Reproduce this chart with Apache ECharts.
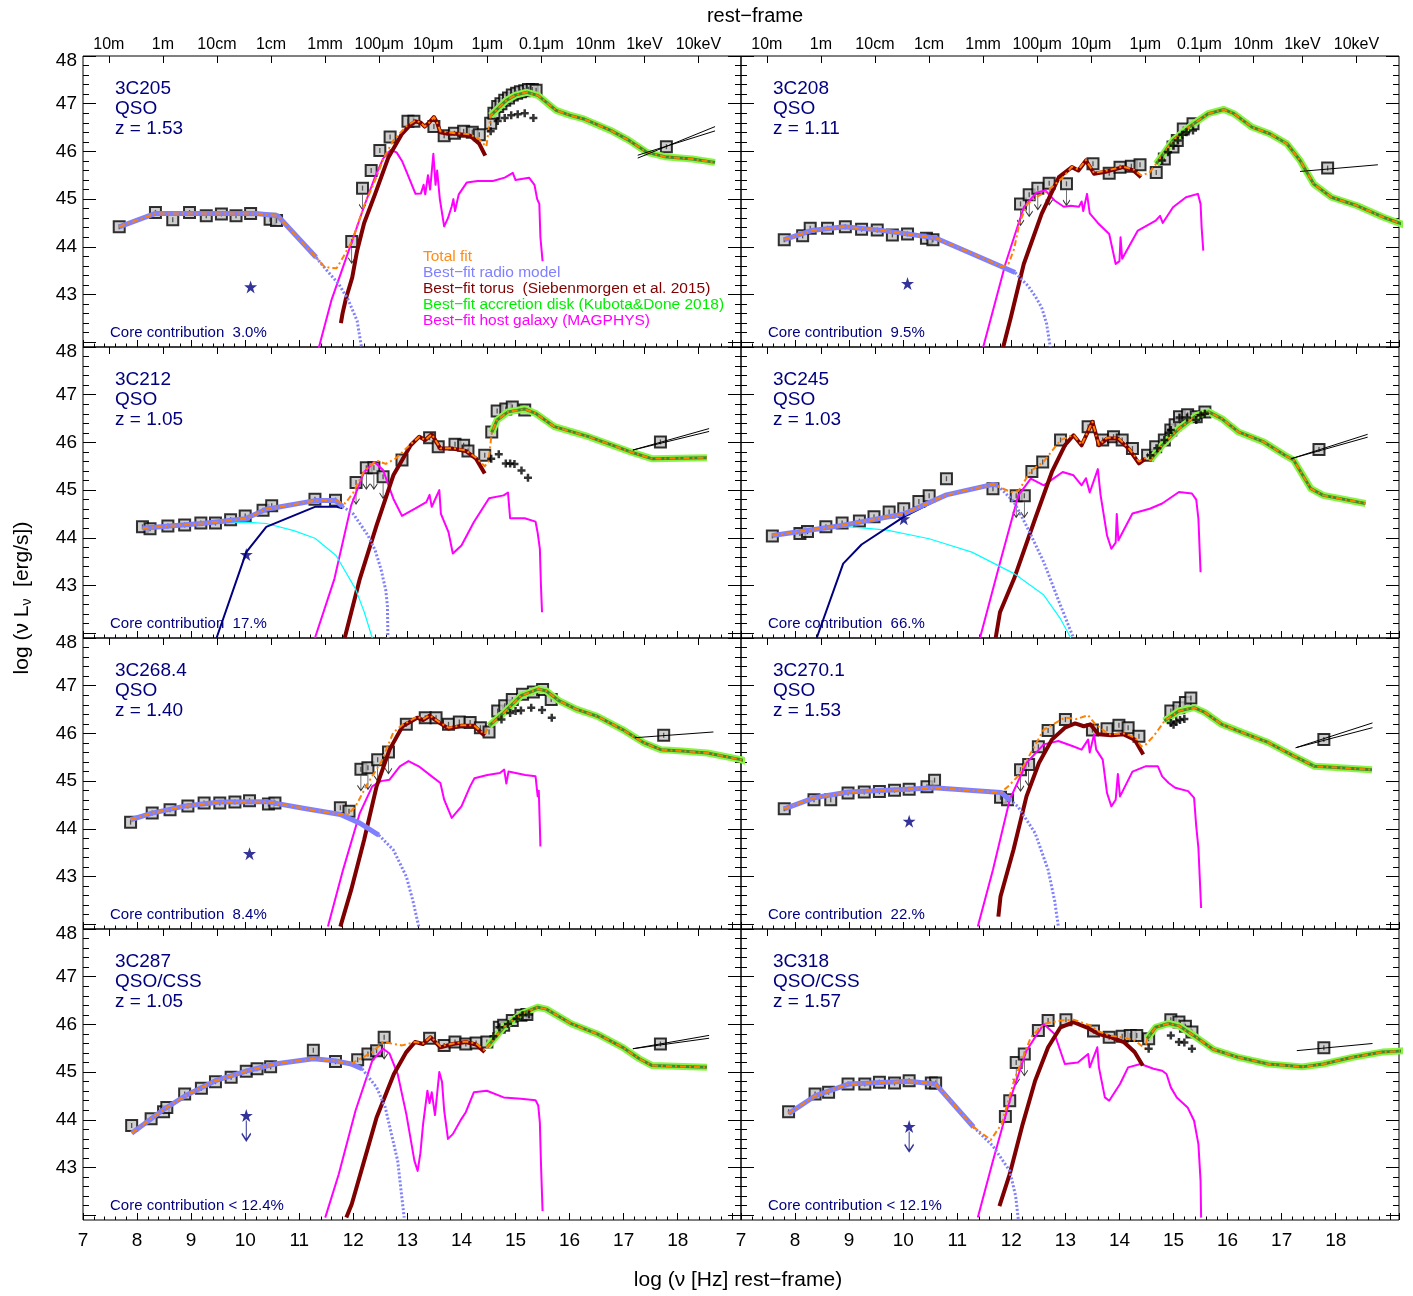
<!DOCTYPE html>
<html><head><meta charset="utf-8">
<script src="https://cdn.jsdelivr.net/npm/echarts@6.0.0/dist/echarts.min.js"></script>
<style>html,body{margin:0;padding:0;background:#fff}#c{width:1413px;height:1296px}</style>
</head><body><div id="c"></div>
<script>
// ---------------- axis ticks / labels ----------------
const TOP_TICK_POS = [7.477, 8.477, 9.477, 10.477, 11.477, 12.477, 13.477, 14.477, 15.477, 16.477, 17.383, 18.383];
const TOP_TICK_LABELS = ['10m','1m','10cm','1cm','1mm','100\u03bcm','10\u03bcm','1\u03bcm','0.1\u03bcm','10nm','1keV','10keV'];
const Y_MAJOR = [42, 43, 44, 45, 46, 47, 48];
const Y_LABELS = [43, 44, 45, 46, 47, 48];

// ---------------- 3C205 ----------------
const pts205 = [[7.67,44.42],[8.34,44.72],[8.66,44.57],[8.97,44.72],[9.28,44.65],[9.56,44.69],[9.83,44.65],[10.10,44.70],[10.46,44.58],[10.58,44.55],[12.33,45.60],[12.49,46.02],[12.68,46.30],[13.01,46.63],[13.12,46.63],[13.49,46.52],[13.68,46.33],[13.87,46.38],[14.04,46.42],[14.2,46.40],[14.33,46.35],[14.54,46.59],[14.6,46.8],[14.67,46.94],[14.73,47.0],[14.8,47.07],[14.87,47.12],[14.94,47.18],[15.02,47.22],[15.09,47.25],[15.17,47.27],[15.24,47.3],[15.31,47.3],[15.38,47.28],[17.79,46.1]];
const ul205 = [[11.97,44.11],[12.17,45.23]];
const crs205 = [[14.54,46.42],[14.67,46.64],[14.8,46.7],[14.92,46.76],[15.04,46.78],[15.17,46.8],[15.33,46.7]];
const star205 = [[10.10,43.16]];
const radio205 = [[7.67,44.42],[8.34,44.7],[8.97,44.7],[9.6,44.7],[10.2,44.7],[10.6,44.65],[11.31,43.78]];
const radioExt205 = [[11.31,43.78],[11.5,43.52],[11.73,43.22],[11.9,42.9],[12.07,42.45],[12.15,41.9]];
const torus205 = [[11.77,42.4],[11.8,42.6],[11.86,42.9],[11.98,43.36],[12.07,43.92],[12.2,44.5],[12.4,45.1],[12.65,45.88],[12.9,46.37],[13.05,46.55],[13.15,46.63],[13.25,46.6],[13.32,46.52],[13.4,46.6],[13.49,46.72],[13.55,46.6],[13.61,46.4],[13.75,46.37],[13.9,46.37],[14.16,46.33],[14.33,46.16],[14.44,45.91]];
const host205 = [[11.36,41.88],[11.6,42.9],[11.98,44.13],[12.2,44.85],[12.4,45.46],[12.55,45.85],[12.69,46.03],[12.8,45.98],[12.9,45.8],[13.0,45.53],[13.15,45.11],[13.25,45.12],[13.3,45.3],[13.33,45.1],[13.38,45.5],[13.42,45.2],[13.48,45.95],[13.52,45.3],[13.55,45.6],[13.6,45.0],[13.68,44.43],[13.75,44.6],[13.82,44.85],[13.85,45.0],[13.88,44.75],[13.95,45.1],[14.1,45.35],[14.3,45.38],[14.58,45.38],[14.8,45.45],[14.95,45.55],[15.0,45.4],[15.25,45.45],[15.35,45.3],[15.4,45.0],[15.44,44.9],[15.46,44.2],[15.5,43.7]];
const disk205 = [[14.54,46.75],[14.83,47.07],[15.0,47.18],[15.21,47.24],[15.42,47.17],[15.6,47.0],[15.75,46.86],[16.0,46.76],[16.26,46.68],[16.76,46.44],[17.1,46.23],[17.43,45.98],[17.76,45.89],[18.27,45.84],[18.69,45.77]];
const total205 = [[7.67,44.42],[8.34,44.7],[8.97,44.7],[9.6,44.7],[10.2,44.7],[10.6,44.65],[11.31,43.78],[11.45,43.6],[11.56,43.56],[11.69,43.55],[11.81,43.78],[11.98,44.13],[12.19,44.83],[12.4,45.39],[12.57,45.88],[12.74,46.23],[12.99,46.54],[13.15,46.65],[13.25,46.6],[13.32,46.52],[13.4,46.6],[13.49,46.72],[13.55,46.6],[13.61,46.42],[13.9,46.38],[14.16,46.36],[14.33,46.25],[14.46,46.1]];
const xrayA205 = [[17.26,45.86],[18.69,46.52]];
const xrayB205 = [[17.26,45.92],[18.69,46.43]];

// ---------------- 3C208 ----------------
const pts208 = [[7.80,44.15],[8.14,44.23],[8.28,44.39],[8.6,44.39],[8.93,44.42],[9.23,44.37],[9.52,44.35],[9.80,44.25],[10.08,44.27],[10.43,44.18],[10.55,44.15],[13.51,45.74],[13.81,45.54],[14.01,45.67],[14.22,45.69],[14.38,45.72],[14.68,45.56],[14.83,45.84],[14.99,46.09],[15.07,46.23],[15.18,46.47],[15.36,46.58],[17.85,45.65]];
const ul208 = [[12.17,44.9],[12.33,45.09],[12.49,45.23],[12.7,45.33],[13.02,45.32]];
const crs208 = [[14.79,45.81],[14.9,45.98],[15.0,46.12],[15.08,46.23],[15.16,46.35],[15.24,46.4],[15.36,46.44]];
const star208 = [[10.08,43.23]];
const radio208 = [[7.8,44.15],[8.3,44.34],[8.91,44.42],[9.56,44.35],[10.2,44.25],[10.61,44.18],[12.07,43.46]];
const radioExt208 = [[12.07,43.46],[12.31,43.18],[12.45,42.95],[12.56,42.73],[12.65,42.4],[12.72,41.9]];
const torus208 = [[11.85,41.9],[11.99,42.52],[12.23,43.64],[12.56,44.69],[12.88,45.46],[13.12,45.67],[13.24,45.6],[13.38,45.81],[13.53,45.53],[13.77,45.58],[14.06,45.67],[14.26,45.6],[14.4,45.46]];
const host208 = [[11.48,41.9],[11.89,43.64],[12.23,44.83],[12.47,45.14],[12.63,45.18],[12.8,44.97],[12.97,44.84],[13.1,44.86],[13.25,44.84],[13.3,44.95],[13.33,44.75],[13.4,45.11],[13.45,44.7],[13.6,44.5],[13.81,44.27],[13.93,43.64],[14.0,43.7],[14.02,44.2],[14.05,43.75],[14.34,44.34],[14.67,44.55],[14.75,44.65],[14.8,44.5],[14.99,44.83],[15.23,45.04],[15.45,45.11],[15.5,44.9],[15.52,44.4],[15.55,43.92]];
const disk208 = [[14.68,45.74],[14.99,46.23],[15.32,46.54],[15.64,46.79],[15.93,46.88],[16.12,46.79],[16.45,46.51],[16.78,46.37],[17.1,46.16],[17.34,45.81],[17.59,45.32],[17.92,45.04],[18.4,44.86],[18.88,44.62],[19.41,44.4]];
const total208 = [[7.8,44.15],[8.3,44.34],[8.91,44.42],[9.56,44.35],[10.2,44.25],[10.61,44.18],[11.5,43.75],[11.83,43.58],[11.95,43.65],[12.05,43.95],[12.15,44.5],[12.3,44.9],[12.48,45.05],[12.7,45.2],[12.95,45.45],[13.12,45.68],[13.24,45.62],[13.38,45.82],[13.53,45.55],[13.77,45.6],[14.06,45.68],[14.26,45.62],[14.4,45.5],[14.55,45.55]];
const xrayA208 = [[17.34,45.58],[18.78,45.72]];
const xrayB208 = [];

// ---------------- 3C212 ----------------
const pts212 = [[8.10,44.23],[8.24,44.19],[8.57,44.25],[8.88,44.27],[9.18,44.31],[9.45,44.31],[9.73,44.38],[10.0,44.46],[10.33,44.58],[10.49,44.67],[11.29,44.81],[11.67,44.79],[12.9,45.63],[13.41,46.1],[13.57,45.91],[13.88,45.96],[14.04,45.94],[14.12,45.82],[14.43,45.73],[14.56,46.22],[14.66,46.66],[14.82,46.70],[14.94,46.74],[15.17,46.68],[17.68,46.01]];
const ul212 = [[12.05,45.16],[12.24,45.47],[12.38,45.47],[12.55,45.28]];
const crs212 = [[14.55,45.66],[14.69,45.75],[14.82,45.56],[14.9,45.56],[14.98,45.55],[15.11,45.41],[15.23,45.26]];
const star212 = [[10.02,43.65]];
const radio212 = [[8.1,44.2],[8.6,44.25],[9.2,44.3],[10.0,44.4],[10.39,44.6],[11.29,44.78],[11.67,44.78],[11.8,44.66]];
const radioExt212 = [[11.8,44.66],[12.0,44.5],[12.27,44.05],[12.4,43.75],[12.51,43.35],[12.6,42.9],[12.63,42.58],[12.64,41.9]];
const core212 = [[9.47,41.9],[10.02,43.7],[10.39,44.23],[11.29,44.65],[11.69,44.65],[11.8,44.62]];
const cyan212 = [[8.1,44.2],[9.0,44.28],[10.0,44.33],[10.39,44.3],[10.9,44.15],[11.29,43.99],[11.68,43.63],[12.04,42.93],[12.2,42.45],[12.35,41.9]];
const torus212 = [[11.84,41.9],[12.12,43.14],[12.43,44.26],[12.74,45.31],[13.06,45.94],[13.22,46.12],[13.33,46.05],[13.45,46.17],[13.61,45.87],[13.84,45.87],[14.08,45.82],[14.27,45.66],[14.43,45.35]];
const host212 = [[11.29,41.9],[11.65,43.14],[11.96,44.68],[12.2,45.38],[12.39,45.59],[12.55,45.42],[12.74,44.82],[12.9,44.46],[13.14,44.61],[13.35,44.75],[13.41,44.9],[13.45,44.65],[13.53,44.85],[13.59,45.0],[13.62,44.5],[13.76,44.12],[13.84,43.67],[14.0,43.84],[14.23,44.33],[14.51,44.83],[14.78,44.89],[14.86,44.95],[14.9,44.41],[15.17,44.41],[15.37,44.34],[15.41,44.1],[15.45,43.77],[15.47,43.0],[15.49,42.44]];
const disk212 = [[14.56,46.21],[14.66,46.47],[14.86,46.64],[15.17,46.7],[15.37,46.61],[15.72,46.33],[16.35,46.12],[17.13,45.8],[17.52,45.66],[18.54,45.68]];
const total212 = [[8.1,44.2],[8.6,44.25],[9.2,44.3],[10.0,44.4],[10.39,44.6],[11.29,44.78],[11.67,44.78],[11.85,44.72],[12.0,44.95],[12.2,45.4],[12.43,45.62],[12.6,45.55],[12.78,45.66],[13.06,45.96],[13.22,46.12],[13.33,46.05],[13.45,46.17],[13.61,45.88],[13.84,45.88],[14.08,45.83],[14.27,45.68],[14.43,45.5],[14.5,45.6]];
const xrayA212 = [[17.17,45.84],[18.58,46.29]];
const xrayB212 = [[17.17,45.84],[18.58,46.23]];

// ---------------- 3C245 ----------------
const pts245 = [[7.58,44.04],[8.09,44.09],[8.23,44.13],[8.57,44.23],[8.87,44.31],[9.19,44.35],[9.46,44.44],[9.74,44.54],[10.01,44.61],[10.29,44.76],[10.48,44.88],[10.8,45.24],[11.66,45.03],[12.38,45.39],[12.58,45.59],[12.91,46.05],[13.42,46.33],[13.69,46.05],[13.89,46.12],[14.05,46.05],[14.24,45.87],[14.52,45.73],[14.67,45.91],[14.83,46.05],[14.95,46.26],[15.03,46.37],[15.11,46.54],[15.26,46.58],[15.42,46.54],[15.58,46.64],[17.69,45.85]];
const ul245 = [[12.09,44.88],[12.24,44.88]];
const crs245 = [[14.57,45.73],[14.7,45.88],[14.83,46.05],[14.91,46.2],[14.95,46.26],[15.11,46.52],[15.25,46.52],[15.42,46.47],[15.5,46.57],[15.58,46.6]];
const star245 = [[10.01,44.40]];
const radio245 = [[7.58,44.05],[8.87,44.26],[10.01,44.5],[10.8,44.9],[11.66,45.12],[11.75,45.1]];
const radioExt245 = [[11.75,45.1],[12.05,44.75],[12.29,44.23],[12.6,43.49],[12.91,42.58],[13.15,41.9]];
const core245 = [[8.4,41.9],[8.89,43.46],[9.23,43.86],[10.01,44.44],[10.8,44.89],[11.66,45.12]];
const cyan245 = [[7.58,44.05],[8.87,44.23],[9.03,44.23],[9.7,44.16],[10.48,43.98],[11.27,43.7],[12.05,43.25],[12.6,42.8],[12.91,42.3],[13.1,41.9]];
const torus245 = [[11.71,41.9],[11.79,42.44],[12.05,43.14],[12.44,44.4],[12.75,45.38],[12.99,45.94],[13.15,46.15],[13.3,45.94],[13.5,46.43],[13.62,45.94],[13.77,46.08],[13.97,46.08],[14.17,45.87],[14.36,45.56],[14.48,45.66]];
const host245 = [[11.42,41.9],[11.81,43.56],[12.13,44.89],[12.36,45.24],[12.6,45.1],[12.95,45.38],[13.15,45.31],[13.3,45.1],[13.38,45.25],[13.45,44.95],[13.6,45.44],[13.65,44.9],[13.77,44.05],[13.85,43.77],[13.93,43.9],[13.95,44.5],[13.98,43.95],[14.24,44.51],[14.56,44.61],[14.79,44.72],[15.1,44.96],[15.34,44.93],[15.42,44.8],[15.46,44.4],[15.5,43.28]];
const disk245 = [[14.57,45.63],[14.79,45.94],[15.1,46.29],[15.42,46.56],[15.65,46.64],[15.89,46.5],[16.2,46.22],[16.67,46.01],[17.06,45.73],[17.22,45.63],[17.54,45.03],[17.77,44.89],[18.55,44.72]];
const total245 = [[7.58,44.05],[8.87,44.26],[10.01,44.5],[10.8,44.9],[11.66,45.12],[11.8,45.05],[12.0,44.96],[12.13,44.98],[12.36,45.4],[12.6,45.6],[12.91,46.05],[13.15,46.16],[13.3,45.95],[13.5,46.43],[13.62,45.95],[13.77,46.1],[13.97,46.1],[14.17,45.88],[14.36,45.6],[14.5,45.68]];
const xrayA245 = [[17.18,45.66],[18.59,46.17]];
const xrayB245 = [[17.18,45.66],[18.59,46.11]];

// ---------------- 3C268.4 ----------------
const pts2684 = [[7.88,44.14],[8.28,44.33],[8.61,44.40],[8.94,44.48],[9.24,44.54],[9.53,44.54],[9.81,44.56],[10.08,44.59],[10.43,44.52],[10.55,44.54],[11.76,44.44],[11.92,44.37],[12.98,46.19],[13.33,46.33],[13.53,46.33],[13.76,46.19],[13.96,46.24],[14.16,46.23],[14.35,46.12],[14.51,46.03],[14.67,46.47],[14.8,46.58],[14.94,46.71],[15.13,46.82],[15.33,46.87],[15.5,46.92],[15.66,46.71],[17.74,45.96]];
const ul2684 = [[12.14,45.25],[12.27,45.28],[12.45,45.45],[12.65,45.61]];
const crs2684 = [[14.74,46.29],[14.9,46.43],[15.0,46.47],[15.1,46.48],[15.29,46.54],[15.49,46.49],[15.67,46.33]];
const star2684 = [[10.08,43.48]];
const radio2684 = [[7.88,44.19],[8.28,44.33],[8.9,44.48],[9.53,44.56],[10.39,44.57],[11.02,44.44],[11.76,44.3],[12.12,44.12],[12.47,43.87]];
const radioExt2684 = [[12.47,43.87],[12.74,43.56],[12.98,43.0],[13.1,42.5],[13.21,41.95]];
const torus2684 = [[11.76,41.95],[11.96,42.72],[12.2,43.77],[12.43,44.89],[12.67,45.66],[12.91,46.15],[13.18,46.33],[13.29,46.28],[13.41,46.37],[13.61,46.21],[13.76,46.1],[14.0,46.16],[14.23,46.16],[14.43,45.95]];
const host2684 = [[11.53,41.95],[11.81,43.14],[12.12,44.33],[12.35,44.89],[12.51,45.0],[12.67,45.03],[12.86,45.31],[13.02,45.42],[13.21,45.31],[13.45,45.1],[13.61,44.96],[13.68,44.61],[13.82,44.23],[14.0,44.47],[14.16,44.89],[14.24,45.06],[14.48,45.13],[14.71,45.17],[14.79,45.24],[14.83,44.95],[14.87,45.2],[15.18,45.13],[15.37,45.1],[15.41,44.68],[15.43,44.8],[15.45,44.05],[15.46,43.63]];
const disk2684 = [[14.51,46.16],[14.79,46.44],[15.1,46.79],[15.42,46.93],[15.57,46.89],[15.81,46.68],[16.12,46.51],[16.51,46.36],[16.98,46.08],[17.38,45.8],[17.69,45.66],[18.08,45.63],[18.55,45.59],[19.17,45.45],[19.3,45.4]];
const total2684 = [[7.88,44.19],[8.28,44.33],[8.9,44.48],[9.53,44.56],[10.39,44.57],[11.02,44.44],[11.76,44.3],[11.9,44.3],[12.04,44.47],[12.27,44.96],[12.51,45.39],[12.74,46.02],[12.91,46.18],[13.18,46.35],[13.29,46.3],[13.41,46.38],[13.61,46.22],[13.76,46.12],[14.0,46.17],[14.23,46.17],[14.43,45.98]];
const xrayA2684 = [[17.21,45.91],[18.66,46.03]];
const xrayB2684 = [];

// ---------------- 3C270.1 ----------------
const pts2701 = [[7.80,44.42],[8.35,44.61],[8.66,44.61],[8.98,44.75],[9.28,44.77],[9.56,44.78],[9.84,44.81],[10.11,44.83],[10.44,44.88],[10.58,45.02],[11.8,44.66],[11.93,44.61],[12.5,45.72],[12.68,46.06],[13.0,46.29],[13.5,46.07],[13.77,46.1],[13.99,46.17],[14.16,46.12],[14.36,45.94],[14.95,46.47],[15.1,46.54],[15.22,46.65],[15.32,46.74],[17.78,45.87]];
const ul2701 = [[12.17,45.24],[12.32,45.35]];
const crs2701 = [[14.95,46.22],[15.0,46.18],[15.05,46.25],[15.12,46.28],[15.2,46.3]];
const star2701 = [[10.11,44.16]];
const radio2701 = [[7.8,44.42],[8.35,44.65],[8.99,44.77],[10.09,44.83],[10.56,44.86],[11.81,44.76],[11.97,44.61]];
const radioExt2701 = [[11.97,44.61],[12.12,44.47],[12.44,43.91],[12.68,43.14],[12.8,42.5],[12.87,41.95]];
const torus2701 = [[11.76,42.16],[11.8,42.58],[12.04,43.56],[12.28,44.68],[12.51,45.38],[12.75,45.87],[12.99,46.12],[13.18,46.21],[13.34,46.15],[13.46,46.19],[13.61,45.98],[13.85,45.96],[14.08,45.98],[14.28,45.87],[14.44,45.56]];
const host2701 = [[11.38,41.95],[11.66,43.14],[11.97,44.61],[12.28,45.38],[12.6,45.77],[12.87,45.84],[13.14,45.73],[13.3,45.66],[13.42,45.87],[13.45,45.6],[13.53,45.98],[13.57,45.66],[13.69,45.45],[13.77,44.75],[13.85,44.47],[13.93,44.61],[13.97,45.15],[14.01,44.68],[14.24,45.2],[14.48,45.31],[14.71,45.31],[14.79,45.1],[14.91,44.96],[15.03,44.86],[15.27,44.79],[15.38,44.65],[15.42,44.05],[15.46,43.6],[15.51,42.34]];
const disk2701 = [[14.83,46.26],[15.1,46.47],[15.38,46.54],[15.58,46.44],[15.89,46.19],[16.36,45.98],[16.75,45.81],[17.22,45.53],[17.61,45.31],[17.93,45.29],[18.67,45.24]];
const total2701 = [[7.8,44.42],[8.35,44.65],[8.99,44.77],[10.09,44.83],[10.56,44.86],[11.81,44.76],[11.95,44.9],[12.12,45.1],[12.36,45.59],[12.6,46.08],[12.99,46.33],[13.2,46.3],[13.42,46.38],[13.55,46.2],[13.8,45.98],[14.1,46.0],[14.3,45.9],[14.4,45.73],[14.48,45.76],[14.63,45.94],[14.79,46.19]];
const xrayA2701 = [[17.26,45.7],[18.68,46.22]];
const xrayB2701 = [[17.26,45.7],[18.68,46.12]];

// ---------------- 3C287 ----------------
const pts287 = [[7.90,43.88],[8.26,44.02],[8.49,44.17],[8.55,44.26],[8.88,44.54],[9.19,44.66],[9.45,44.80],[9.74,44.89],[10.02,45.02],[10.22,45.07],[10.47,45.11],[11.26,45.46],[11.67,45.22],[12.08,45.26],[12.27,45.38],[12.43,45.45],[13.41,45.71],[13.68,45.56],[13.88,45.63],[14.08,45.59],[14.27,45.61],[14.47,45.63],[14.7,45.94],[14.78,45.98],[14.94,46.08],[15.1,46.19],[15.21,46.21],[17.68,45.59]];
const ul287 = [[12.57,45.73]];
const crs287 = [[14.59,45.75],[14.7,45.94],[14.86,46.01],[15.02,46.12],[15.13,46.19],[15.25,46.21]];
const star287 = [[10.02,44.09]];
const radio287 = [[7.9,43.72],[8.51,44.23],[8.9,44.51],[9.45,44.82],[10.08,45.04],[10.55,45.17],[11.26,45.28],[11.65,45.24],[11.96,45.17],[12.16,45.07]];
const radioExt287 = [[12.16,45.07],[12.43,44.68],[12.59,44.26],[12.82,43.14],[12.94,41.95]];
const torus287 = [[11.87,41.95],[11.97,42.23],[12.2,43.14],[12.43,44.05],[12.75,44.96],[12.98,45.42],[13.14,45.63],[13.29,45.59],[13.43,45.73],[13.61,45.52],[13.84,45.59],[14.08,45.63],[14.27,45.58],[14.43,45.42]];
const host287 = [[11.48,41.95],[11.73,42.86],[12.04,44.19],[12.35,45.24],[12.55,45.49],[12.67,45.39],[12.82,44.96],[12.98,44.12],[13.13,43.14],[13.19,42.93],[13.24,43.3],[13.29,43.91],[13.37,44.61],[13.41,44.35],[13.45,44.58],[13.51,44.1],[13.59,45.0],[13.64,44.8],[13.68,44.2],[13.75,43.6],[13.84,43.7],[14.0,44.02],[14.08,44.16],[14.23,44.58],[14.47,44.61],[14.78,44.47],[15.1,44.44],[15.37,44.41],[15.42,44.3],[15.45,43.94],[15.47,43.1],[15.5,42.09]];
const disk287 = [[14.48,45.53],[14.78,45.94],[15.1,46.22],[15.41,46.36],[15.57,46.32],[16.04,46.01],[16.51,45.8],[16.98,45.52],[17.29,45.28],[17.52,45.14],[18.54,45.1]];
const total287 = [[7.9,43.72],[8.51,44.23],[8.9,44.51],[9.45,44.82],[10.08,45.04],[10.55,45.17],[11.26,45.28],[11.65,45.24],[11.96,45.17],[12.08,45.25],[12.35,45.42],[12.55,45.63],[12.9,45.56],[13.14,45.63],[13.29,45.6],[13.43,45.74],[13.61,45.54],[13.84,45.6],[14.08,45.64],[14.27,45.6],[14.43,45.45]];
const xrayA287 = [[17.17,45.49],[18.58,45.77]];
const xrayB287 = [[17.17,45.49],[18.58,45.71]];

// ---------------- 3C318 ----------------
const pts318 = [[7.88,44.17],[8.37,44.54],[8.62,44.58],[8.98,44.75],[9.29,44.75],[9.56,44.79],[9.84,44.77],[10.11,44.82],[10.52,44.77],[10.6,44.77],[11.89,44.07],[11.97,44.4],[12.5,45.87],[12.68,46.08],[13.01,46.1],[13.52,45.86],[13.81,45.73],[14.05,45.75],[14.2,45.77],[14.32,45.77],[14.54,45.7],[14.95,46.1],[15.1,46.05],[15.22,45.96],[15.34,45.84],[17.78,45.51]];
const ul318 = [[12.09,45.2],[12.24,45.38]];
const crs318 = [[14.54,45.49],[14.95,45.77],[15.1,45.63],[15.2,45.62],[15.34,45.49]];
const star318 = [[10.11,43.86]];
const radio318 = [[7.88,44.13],[8.37,44.5],[8.99,44.75],[10.09,44.81],[10.6,44.75],[11.3,43.85]];
const radioExt318 = [[11.3,43.85],[11.66,43.45],[11.97,42.93],[12.08,42.4],[12.13,41.9]];
const torus318 = [[11.78,42.19],[11.97,42.86],[12.21,43.91],[12.44,44.82],[12.68,45.52],[12.91,45.94],[13.15,46.05],[13.39,45.94],[13.62,45.8],[13.85,45.73],[14.08,45.63],[14.28,45.42],[14.43,45.14]];
const host318 = [[11.38,41.95],[11.66,43.14],[11.97,44.4],[12.28,45.45],[12.6,46.01],[12.8,45.8],[12.99,45.17],[13.23,45.2],[13.42,45.38],[13.45,45.1],[13.59,45.52],[13.62,45.1],[13.73,44.47],[13.81,44.4],[14.01,44.75],[14.16,45.1],[14.39,45.17],[14.63,45.07],[14.79,45.03],[14.87,44.96],[14.95,44.68],[15.06,44.47],[15.26,44.26],[15.38,43.98],[15.46,43.49],[15.5,42.72],[15.51,41.95]];
const disk318 = [[14.51,45.7],[14.67,45.94],[14.91,46.02],[15.1,45.97],[15.42,45.73],[15.73,45.48],[16.2,45.31],[16.75,45.17],[17.38,45.11],[17.77,45.17],[18.31,45.31],[18.86,45.42],[19.17,45.44],[19.3,45.45]];
const total318 = [[7.88,44.13],[8.37,44.5],[8.99,44.75],[10.09,44.81],[10.6,44.75],[11.3,43.85],[11.62,43.58],[11.82,43.91],[12.05,44.82],[12.36,45.73],[12.6,46.01],[12.91,46.08],[13.15,46.1],[13.46,45.98],[13.62,45.85],[13.85,45.76],[14.1,45.72],[14.3,45.65],[14.48,45.49]];
const xrayA318 = [[17.28,45.45],[18.68,45.6]];
const xrayB318 = [];

// ---------------- panel table ----------------
const PANELS = [
  {name:'3C205', kind:'QSO', z:'z = 1.53', core:'Core contribution  3.0%', pts:pts205, ul:ul205, crs:crs205, star:star205, starUL:false, radio:radio205, radioExt:radioExt205, torus:torus205, host:host205, disk:disk205, total:total205, xa:xrayA205, xb:xrayB205},
  {name:'3C208', kind:'QSO', z:'z = 1.11', core:'Core contribution  9.5%', pts:pts208, ul:ul208, crs:crs208, star:star208, starUL:false, radio:radio208, radioExt:radioExt208, torus:torus208, host:host208, disk:disk208, total:total208, xa:xrayA208, xb:xrayB208},
  {name:'3C212', kind:'QSO', z:'z = 1.05', core:'Core contribution  17.%', pts:pts212, ul:ul212, crs:crs212, star:star212, starUL:false, radio:radio212, radioExt:radioExt212, torus:torus212, host:host212, disk:disk212, total:total212, xa:xrayA212, xb:xrayB212, coreC:core212, cyan:cyan212},
  {name:'3C245', kind:'QSO', z:'z = 1.03', core:'Core contribution  66.%', pts:pts245, ul:ul245, crs:crs245, star:star245, starUL:false, radio:radio245, radioExt:radioExt245, torus:torus245, host:host245, disk:disk245, total:total245, xa:xrayA245, xb:xrayB245, coreC:core245, cyan:cyan245},
  {name:'3C268.4', kind:'QSO', z:'z = 1.40', core:'Core contribution  8.4%', pts:pts2684, ul:ul2684, crs:crs2684, star:star2684, starUL:false, radio:radio2684, radioExt:radioExt2684, torus:torus2684, host:host2684, disk:disk2684, total:total2684, xa:xrayA2684, xb:xrayB2684},
  {name:'3C270.1', kind:'QSO', z:'z = 1.53', core:'Core contribution  22.%', pts:pts2701, ul:ul2701, crs:crs2701, star:star2701, starUL:false, radio:radio2701, radioExt:radioExt2701, torus:torus2701, host:host2701, disk:disk2701, total:total2701, xa:xrayA2701, xb:xrayB2701},
  {name:'3C287', kind:'QSO/CSS', z:'z = 1.05', core:'Core contribution < 12.4%', pts:pts287, ul:ul287, crs:crs287, star:star287, starUL:true, radio:radio287, radioExt:radioExt287, torus:torus287, host:host287, disk:disk287, total:total287, xa:xrayA287, xb:xrayB287},
  {name:'3C318', kind:'QSO/CSS', z:'z = 1.57', core:'Core contribution < 12.1%', pts:pts318, ul:ul318, crs:crs318, star:star318, starUL:true, radio:radio318, radioExt:radioExt318, torus:torus318, host:host318, disk:disk318, total:total318, xa:xrayA318, xb:xrayB318}
];

const LEGEND = [
  ['Total fit', '#ff8c1a'],
  ['Best\u2212fit radio model', '#8080ff'],
  ['Best\u2212fit torus  (Siebenmorgen et al. 2015)', '#800000'],
  ['Best\u2212fit accretion disk (Kubota&Done 2018)', '#00ee00'],
  ['Best\u2212fit host galaxy (MAGPHYS)', '#ff00ff']
];

// ---------------- build ----------------
const F = '"Liberation Sans", Helvetica, Arial, sans-serif';
const NAVY = '#00007f';
const GW = 658, GH = 291, LEFTS = [83, 741], TOPS = [56, 347, 638, 929];
const X_MIN = 7, X_MAX = 19.17, Y_MIN = 41.9, Y_MAX = 48;
const Y_MINOR = [];
for (let k = 42; k < 48; k++) for (let m = 1; m < 5; m++) Y_MINOR.push(+(k + m * 0.2).toFixed(1));

const STAR = 'path://M50,0 L61.8,35.5 L99,35.5 L69,57.5 L80.5,93 L50,71 L19.5,93 L31,57.5 L1,35.5 L38.2,35.5 Z';
const ARROW = 'path://M5,0 L5,20 M1,13 L5,20 L9,13';
const PLUS = 'path://M5,0 L5,10 M0,5 L10,5';

const grids = [], xAxes = [], yAxes = [], series = [], graphics = [];

function topLabel(v) {
  for (let k = 0; k < TOP_TICK_POS.length; k++) if (Math.abs(v - TOP_TICK_POS[k]) < 1e-3) return TOP_TICK_LABELS[k];
  return '';
}

PANELS.forEach((p, i) => {
  const col = i % 2, row = Math.floor(i / 2);
  grids.push({left: LEFTS[col], top: TOPS[row], width: GW, height: GH, show: true,
    borderColor: '#000', borderWidth: 1, backgroundColor: 'transparent'});
  const tickStyle = {color: '#000', width: 1};
  xAxes.push({type: 'value', gridIndex: i, position: 'bottom', min: X_MIN, max: X_MAX, interval: 1,
    axisLine: {show: false, onZero: false}, splitLine: {show: false},
    axisTick: {show: true, inside: true, length: 7, lineStyle: tickStyle},
    minorTick: {show: true, splitNumber: 5, length: 3.5, lineStyle: tickStyle},
    axisLabel: {show: row === 3, margin: 11, fontSize: 19, color: '#000', fontFamily: F,
      formatter: v => (Math.abs(v - Math.round(v)) < 1e-6 && v <= 18.5) ? String(Math.round(v)) : ''}});
  xAxes.push({type: 'value', gridIndex: i, position: 'top', min: X_MIN, max: X_MAX,
    axisLine: {show: false, onZero: false}, splitLine: {show: false},
    axisTick: {show: true, inside: true, length: 7, customValues: TOP_TICK_POS, lineStyle: tickStyle},
    axisLabel: {show: row === 0, customValues: TOP_TICK_POS, margin: 3, fontSize: 16, color: '#000', fontFamily: F,
      formatter: v => topLabel(v)}});
  const yb = {type: 'value', gridIndex: i, min: Y_MIN, max: Y_MAX, splitLine: {show: false}, axisLine: {show: false, onZero: false}};
  yAxes.push(Object.assign({}, yb, {position: 'left',
    axisTick: {show: true, inside: true, length: 13, customValues: Y_MAJOR, lineStyle: tickStyle},
    axisLabel: {show: col === 0, customValues: Y_LABELS, margin: 6, fontSize: 19, color: '#000', fontFamily: F,
      formatter: v => Math.round(v) === 48 ? '{t|48}' : String(Math.round(v)),
      rich: {t: {fontSize: 19, fontFamily: F, color: '#000', padding: [10, 0, 0, 0]}}}}));
  yAxes.push(Object.assign({}, yb, {position: 'left',
    axisTick: {show: true, inside: true, length: 6, customValues: Y_MINOR, lineStyle: tickStyle},
    axisLabel: {show: false}}));
  yAxes.push(Object.assign({}, yb, {position: 'right',
    axisTick: {show: true, inside: true, length: 13, customValues: Y_MAJOR, lineStyle: tickStyle},
    axisLabel: {show: false}}));
  yAxes.push(Object.assign({}, yb, {position: 'right',
    axisTick: {show: true, inside: true, length: 6, customValues: Y_MINOR, lineStyle: tickStyle},
    axisLabel: {show: false}}));

  const xi = 2 * i, yi = 4 * i;
  const line = (data, color, width, type, z, opacity) => ({
    type: 'line', xAxisIndex: xi, yAxisIndex: yi, data: data, symbol: 'none', showSymbol: false,
    smooth: false, silent: true, clip: true, z: z || 3,
    lineStyle: {color: color, width: width, type: type || 'solid', cap: 'butt', join: 'round', opacity: opacity == null ? 1 : opacity}
  });

  // data squares
  const allPts = p.pts.concat(p.ul);
  series.push({type: 'scatter', xAxisIndex: xi, yAxisIndex: yi, data: allPts, symbol: 'rect', symbolSize: 11,
    itemStyle: {color: '#c2c2c2', borderColor: '#000', borderWidth: 2}, z: 2, silent: true});
  series.push({type: 'scatter', xAxisIndex: xi, yAxisIndex: yi, data: allPts, symbol: 'rect', symbolSize: [1.3, 5],
    itemStyle: {color: '#333'}, z: 2, silent: true});
  series.push({type: 'scatter', xAxisIndex: xi, yAxisIndex: yi, data: p.ul, symbol: ARROW, symbolSize: [7, 15],
    symbolOffset: [0, 14], itemStyle: {color: 'none', borderColor: '#000', borderWidth: 1}, z: 2, silent: true});

  // model curves
  series.push(line(p.host, '#ff00ff', 2, 'solid', 3));
  series.push(line(p.torus, '#7f0000', 4, 'solid', 3));
  if (p.cyan) series.push(line(p.cyan, '#00ffff', 1.2, 'solid', 3));
  if (p.coreC) series.push(line(p.coreC, '#000080', 2, 'solid', 3));
  series.push(line(p.radio, '#8080ff', 5, 'solid', 3));
  series.push(line(p.radioExt, '#8080ff', 3, [2, 2], 3));
  series.push(line(p.disk, '#88f544', 7, 'solid', 3));
  series.push(line(p.disk, '#3f8a2f', 3, 'solid', 3));
  series.push(line(p.total.concat(p.disk), '#ff8000', 2, [6, 3, 2, 3], 4));
  if (p.xa.length) series.push(line(p.xa, '#000', 1, 'solid', 4));
  if (p.xb.length) series.push(line(p.xb, '#000', 1, 'solid', 4));

  // crosses and star
  series.push({type: 'scatter', xAxisIndex: xi, yAxisIndex: yi, data: p.crs, symbol: PLUS, symbolSize: 8,
    itemStyle: {color: 'none', borderColor: '#000', borderWidth: 2.5}, z: 5, silent: true});
  series.push({type: 'scatter', xAxisIndex: xi, yAxisIndex: yi, data: p.star, symbol: STAR, symbolSize: 13,
    itemStyle: {color: NAVY}, z: 5, silent: true});
  if (p.starUL) series.push({type: 'scatter', xAxisIndex: xi, yAxisIndex: yi, data: p.star, symbol: ARROW,
    symbolSize: [9, 20], symbolOffset: [0, 15], itemStyle: {color: 'none', borderColor: NAVY, borderWidth: 1.5}, z: 5, silent: true});

  // panel texts
  const gx = LEFTS[col], gy = TOPS[row];
  [p.name, p.kind, p.z].forEach((t, k) => graphics.push({type: 'text', x: gx + 32, y: gy + 33 + 20 * k, z: 100, silent: true,
    style: {text: t, fill: NAVY, font: '19px ' + F, textAlign: 'left', textVerticalAlign: 'middle', align: 'left', verticalAlign: 'middle'}}));
  graphics.push({type: 'text', x: gx + 27, y: gy + GH - 14, z: 100, silent: true,
    style: {text: p.core, fill: NAVY, font: '15px ' + F, textAlign: 'left', textVerticalAlign: 'middle', align: 'left', verticalAlign: 'middle'}});
});

// legend in first panel
LEGEND.forEach((l, k) => graphics.push({type: 'text', x: 423, y: 257 + 16 * k, z: 100, silent: true,
  style: {text: l[0], fill: l[1], font: '15.5px ' + F, textAlign: 'left', textVerticalAlign: 'middle', align: 'left', verticalAlign: 'middle'}}));

// axis titles
graphics.push({type: 'text', x: 755, y: 16, z: 100, silent: true,
  style: {text: 'rest\u2212frame', fill: '#000', font: '20px ' + F, textAlign: 'center', textVerticalAlign: 'middle', align: 'center', verticalAlign: 'middle'}});
graphics.push({type: 'text', x: 738, y: 1280, z: 100, silent: true,
  style: {text: 'log (\u03bd [Hz] rest\u2212frame)', fill: '#000', font: '21px ' + F, textAlign: 'center', textVerticalAlign: 'middle', align: 'center', verticalAlign: 'middle'}});
graphics.push({type: 'text', x: 22, y: 598, rotation: Math.PI / 2, z: 100, silent: true,
  style: {text: 'log (\u03bd L{s|\u03bd}  [erg/s])', fill: '#000', font: '21px ' + F, textAlign: 'center', textVerticalAlign: 'middle', align: 'center', verticalAlign: 'middle',
    rich: {s: {fontSize: 14, fontFamily: F, fill: '#000', color: '#000', padding: [10, 0, 0, 0]}}}});

const chart = echarts.init(document.getElementById('c'), null, {renderer: 'canvas'});
chart.setOption({
  animation: false,
  backgroundColor: '#fff',
  textStyle: {fontFamily: F},
  grid: grids, xAxis: xAxes, yAxis: yAxes, series: series, graphic: graphics
});
</script></body></html>
